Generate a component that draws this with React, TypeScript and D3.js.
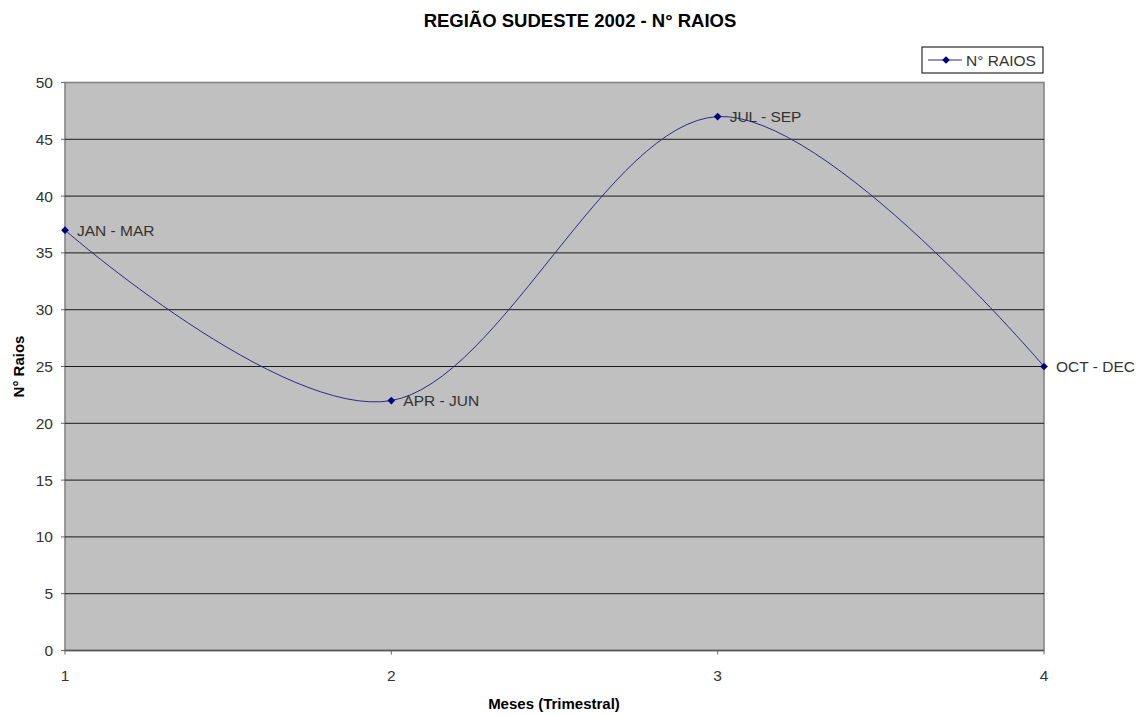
import { useEffect, useRef } from 'react';
import * as d3 from 'd3';

const quarters = [1, 2, 3, 4];
const raios = [37, 22, 47, 25];
const pointLabels = ['JAN - MAR', 'APR - JUN', 'JUL - SEP', 'OCT - DEC'];
const yTicks = [0, 5, 10, 15, 20, 25, 30, 35, 40, 45, 50];

export default function App() {
    const svgRef = useRef(null);

    useEffect(() => {
        const width = 1142;
        const height = 716;
        const m = { left: 65, right: 1044, top: 82.5, bottom: 650.5 };
        const font = 'Arial, "Liberation Sans", sans-serif';
        const fs = 15.5;

        const svg = d3.select(svgRef.current);
        svg.selectAll('*').remove();
        svg.attr('width', width).attr('height', height);

        const x = d3.scaleLinear().domain([1, 4]).range([m.left, m.right]);
        const y = d3.scaleLinear().domain([0, 50]).range([m.bottom, m.top]);

        svg.append('rect').attr('width', width).attr('height', height).attr('fill', '#fff');

        // title
        svg.append('text')
            .attr('x', 580).attr('y', 27)
            .attr('text-anchor', 'middle')
            .attr('font-family', font).attr('font-weight', 'bold').attr('font-size', 18.5)
            .attr('fill', '#000')
            .text('REGIÃO SUDESTE 2002 - N° RAIOS');

        // plot area
        svg.append('rect')
            .attr('x', m.left).attr('y', m.top)
            .attr('width', m.right - m.left).attr('height', m.bottom - m.top)
            .attr('fill', '#c0c0c0').attr('stroke', '#808080').attr('stroke-width', 1.5);

        // gridlines
        svg.append('g').selectAll('line')
            .data(yTicks.filter((t) => t > 0 && t < 50))
            .join('line')
            .attr('x1', m.left).attr('x2', m.right)
            .attr('y1', (d) => y(d)).attr('y2', (d) => y(d))
            .attr('stroke', '#1a1a1a').attr('stroke-width', 1);

        svg.append('line')
            .attr('x1', m.left).attr('x2', m.right)
            .attr('y1', y(0)).attr('y2', y(0))
            .attr('stroke', '#555').attr('stroke-width', 1.5);

        // y axis
        const yAxis = svg.append('g');
        yAxis.selectAll('line').data(yTicks).join('line')
            .attr('x1', m.left - 4).attr('x2', m.left)
            .attr('y1', (d) => y(d)).attr('y2', (d) => y(d))
            .attr('stroke', '#666');
        yAxis.selectAll('text').data(yTicks).join('text')
            .attr('x', m.left - 12).attr('y', (d) => y(d) + 5.5)
            .attr('text-anchor', 'end')
            .attr('font-family', font).attr('font-size', fs).attr('fill', '#333')
            .text((d) => d);

        // x axis
        const xAxis = svg.append('g');
        xAxis.selectAll('line').data(quarters).join('line')
            .attr('x1', (d) => x(d)).attr('x2', (d) => x(d))
            .attr('y1', m.bottom).attr('y2', m.bottom + 4)
            .attr('stroke', '#666');
        xAxis.selectAll('text').data(quarters).join('text')
            .attr('x', (d) => x(d)).attr('y', 681)
            .attr('text-anchor', 'middle')
            .attr('font-family', font).attr('font-size', fs).attr('fill', '#333')
            .text((d) => d);

        // axis titles
        svg.append('text')
            .attr('x', 554).attr('y', 709)
            .attr('text-anchor', 'middle')
            .attr('font-family', font).attr('font-weight', 'bold').attr('font-size', 15)
            .attr('fill', '#000')
            .text('Meses (Trimestral)');
        svg.append('text')
            .attr('transform', `translate(24, ${(m.top + m.bottom) / 2}) rotate(-90)`)
            .attr('text-anchor', 'middle')
            .attr('font-family', font).attr('font-weight', 'bold').attr('font-size', 15)
            .attr('fill', '#000')
            .text('N° Raios');

        // series
        const pts = quarters.map((q, i) => ({ q, v: raios[i], label: pointLabels[i] }));
        const line = d3.line()
            .x((d) => x(d.q)).y((d) => y(d.v))
            .curve(d3.curveCatmullRom.alpha(0));
        svg.append('path')
            .datum(pts)
            .attr('d', line)
            .attr('fill', 'none').attr('stroke', '#2a2a8a').attr('stroke-width', 1);

        // diamond marker = square turned 45°
        const marker = d3.symbol().type(d3.symbolSquare).size(30);
        svg.append('g').selectAll('path').data(pts).join('path')
            .attr('transform', (d) => `translate(${x(d.q)},${y(d.v)}) rotate(45)`)
            .attr('d', marker)
            .attr('fill', '#000080');

        svg.append('g').selectAll('text').data(pts).join('text')
            .attr('x', (d) => x(d.q) + 12).attr('y', (d) => y(d.v) + 5.5)
            .attr('font-family', font).attr('font-size', fs).attr('fill', '#333')
            .text((d) => d.label);

        // legend
        const lg = svg.append('g').attr('transform', 'translate(922, 47)');
        lg.append('rect').attr('width', 121).attr('height', 26)
            .attr('fill', '#fff').attr('stroke', '#000').attr('stroke-width', 1);
        lg.append('line').attr('x1', 6).attr('x2', 40).attr('y1', 13).attr('y2', 13)
            .attr('stroke', '#2a2a8a').attr('stroke-width', 1);
        lg.append('path').attr('transform', 'translate(24,13) rotate(45)').attr('d', marker).attr('fill', '#000080');
        lg.append('text').attr('x', 44).attr('y', 18.5)
            .attr('font-family', font).attr('font-size', fs).attr('fill', '#333')
            .text('N° RAIOS');
    }, []);

    return (
        <div style={{ position: 'absolute', left: 0, top: 0 }}>
            <svg ref={svgRef} />
        </div>
    );
}
